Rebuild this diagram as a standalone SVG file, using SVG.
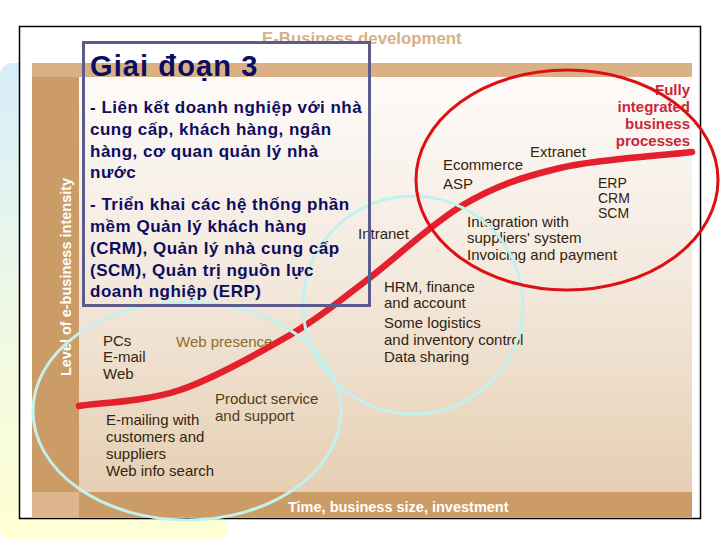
<svg xmlns="http://www.w3.org/2000/svg" width="720" height="540" viewBox="0 0 720 540">
  <defs>
    <linearGradient id="slideBg" x1="0" y1="0" x2="0" y2="1">
      <stop offset="0" stop-color="#d6edfa"/>
      <stop offset="0.5" stop-color="#eef8e6"/>
      <stop offset="1" stop-color="#ffffd2"/>
    </linearGradient>
    <linearGradient id="chartBg" x1="0" y1="0" x2="0" y2="1">
      <stop offset="0" stop-color="#fdfbf9"/>
      <stop offset="0.5" stop-color="#f3e8dc"/>
      <stop offset="1" stop-color="#e6cfb3"/>
    </linearGradient>
    <style>
      .lb { font-family: "Liberation Sans", Arial, sans-serif; font-size: 15px; fill: #33240f; }
      .sm { font-size: 14px; }
      .tan { fill: #8c6d2c; }
      .olive { fill: #4e3e14; }
      .red { font-family: "Liberation Sans", Arial, sans-serif; font-size: 15px; font-weight: bold; fill: #c8283a; text-anchor: end; }
      .axis { font-family: "Liberation Sans", Arial, sans-serif; font-weight: bold; fill: #ffffff; }
      .body { font-family: "Liberation Sans", Arial, sans-serif; font-size: 17px; font-weight: bold; fill: #0d0d60; letter-spacing: 0.5px; }
      .cyan { fill: none; stroke: #c2f1ee; stroke-width: 3; }
    </style>
  </defs>

  <g id="background">
    <rect x="0" y="63" width="228" height="477" rx="12" fill="url(#slideBg)"/>
    <rect x="19.5" y="26.5" width="681" height="492" fill="#ffffff" stroke="#000000" stroke-width="1.5"/>
  </g>

  <g id="chart">
    <text x="262" y="44" font-family="Liberation Sans, Arial, sans-serif" font-size="16.8" font-weight="bold" fill="#d8b088">E-Business development</text>
    <rect x="32" y="63" width="660" height="14" fill="#d9b184"/>
    <rect x="79" y="77" width="613" height="415" fill="url(#chartBg)"/>
    <rect x="32" y="77" width="47" height="415" fill="#cc9c66"/>
    <rect x="32" y="492" width="660" height="25.5" fill="#cc9c66"/>
    <rect x="32" y="492" width="47" height="25.5" fill="#ddb68d"/>
    <text class="axis" font-size="14.5" transform="translate(71,277) rotate(-90)" text-anchor="middle">Level of e-business intensity</text>
    <text class="axis" font-size="14.5" x="288" y="512">Time, business size, investment</text>
  </g>

  <g id="labels">
    <text class="lb" x="530" y="157">Extranet</text>
    <text class="lb" x="443" y="170">Ecommerce</text>
    <text class="lb" x="443" y="189">ASP</text>
    <text class="lb sm" x="598" y="188">ERP</text>
    <text class="lb sm" x="598" y="203">CRM</text>
    <text class="lb sm" x="598" y="218">SCM</text>
    <text class="lb" x="467" y="227">Integration with</text>
    <text class="lb" x="467" y="243">suppliers' system</text>
    <text class="lb" x="467" y="260">Invoicing and payment</text>
    <text class="lb" x="358" y="239">Intranet</text>
    <text class="lb" x="384" y="292">HRM, finance</text>
    <text class="lb" x="384" y="308">and account</text>
    <text class="lb" x="384" y="328">Some logistics</text>
    <text class="lb" x="384" y="345">and inventory control</text>
    <text class="lb" x="384" y="362">Data sharing</text>
    <text class="lb" x="103" y="346">PCs</text>
    <text class="lb" x="103" y="362">E-mail</text>
    <text class="lb" x="103" y="379">Web</text>
    <text class="lb tan" x="176" y="347">Web presence</text>
    <text class="lb olive" x="215" y="404">Product service</text>
    <text class="lb olive" x="215" y="421">and support</text>
    <text class="lb" x="106" y="425">E-mailing with</text>
    <text class="lb" x="106" y="442">customers and</text>
    <text class="lb" x="106" y="459">suppliers</text>
    <text class="lb" x="106" y="476">Web info search</text>
    <text class="red" x="690" y="95">Fully</text>
    <text class="red" x="690" y="112">integrated</text>
    <text class="red" x="690" y="129">business</text>
    <text class="red" x="690" y="146">processes</text>
  </g>

  <g id="connectors">
    <path d="M79,406 C96,403 145,402 180,390 C215,378 259,353 290,335 C321,317 338,302 367,280 C396,258 431,224 463,205 C495,186 522,177 560,168 C598,159 670,155 692,152" fill="none" stroke="#e3202c" stroke-width="6.5" stroke-linecap="round"/>
  </g>

  <g id="stage1">
    <ellipse class="cyan" cx="187" cy="411" rx="154" ry="109"/>
  </g>
  <g id="stage2">
    <ellipse class="cyan" cx="413" cy="305" rx="110" ry="109"/>
  </g>
  <g id="stage3">
    <ellipse cx="567" cy="180" rx="151" ry="110" fill="none" stroke="#dd1111" stroke-width="3"/>
  </g>

  <g id="textbox">
    <rect x="83.5" y="42.5" width="286" height="263" fill="none" stroke="#5b5b8c" stroke-width="3"/>
    <text x="90" y="76" font-family="Liberation Sans, Arial, sans-serif" font-size="29" font-weight="bold" fill="#0d0d60" letter-spacing="1.1">Giai đoạn 3</text>
    <text class="body" x="90" y="113">- Liên kết doanh nghiệp với nhà</text>
    <text class="body" x="90" y="135">cung cấp, khách hàng, ngân</text>
    <text class="body" x="90" y="157">hàng, cơ quan quản lý nhà</text>
    <text class="body" x="90" y="178">nước</text>
    <text class="body" x="90" y="210">- Triển khai các hệ thống phần</text>
    <text class="body" x="90" y="232">mềm Quản lý khách hàng</text>
    <text class="body" x="90" y="254">(CRM), Quản lý nhà cung cấp</text>
    <text class="body" x="90" y="276">(SCM), Quản trị nguồn lực</text>
    <text class="body" x="90" y="297">doanh nghiệp (ERP)</text>
  </g>
</svg>
